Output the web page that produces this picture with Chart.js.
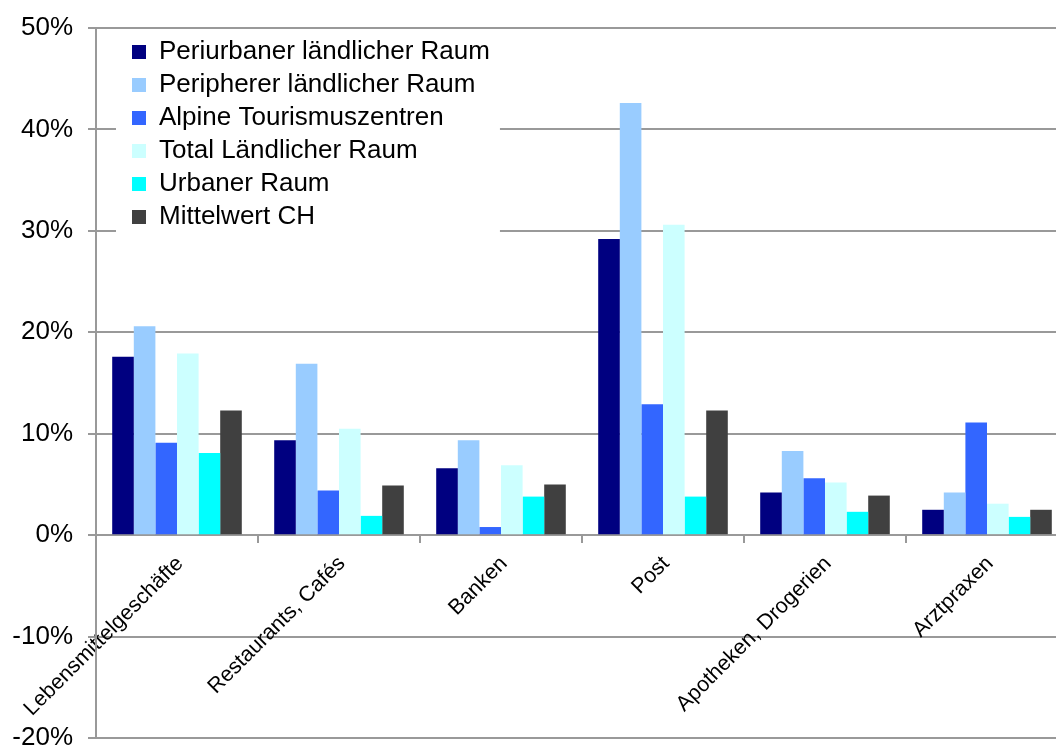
<!DOCTYPE html>
<html lang="de">
<head>
<meta charset="utf-8">
<title>Anteil Betriebe</title>
<script src="https://cdn.jsdelivr.net/npm/chart.js@4/dist/chart.umd.min.js"></script>
<style>
  html, body { margin: 0; padding: 0; background: #fff; overflow: hidden; }
  canvas { display: block; }
</style>
</head>
<body>
<canvas id="chart" width="1068" height="766"></canvas>
<script>
// Kategorien und Werte in Prozent
const categories = ['Lebensmittelgeschäfte', 'Restaurants, Cafés', 'Banken', 'Post', 'Apotheken, Drogerien', 'Arztpraxen']
const periurban = [17.6, 9.35, 6.6, 29.2, 4.2, 2.5]
const peripher = [20.6, 16.9, 9.35, 42.6, 8.3, 4.2]
const alpin = [9.1, 4.4, 0.8, 12.9, 5.6, 11.1]
const totalLaendlich = [17.9, 10.5, 6.9, 30.6, 5.2, 3.1]
const urban = [8.1, 1.9, 3.8, 3.8, 2.3, 1.8]
const mittelwert = [12.3, 4.9, 5.0, 12.3, 3.9, 2.5]

const seriesNames = ['Periurbaner ländlicher Raum', 'Peripherer ländlicher Raum', 'Alpine Tourismuszentren', 'Total Ländlicher Raum', 'Urbaner Raum', 'Mittelwert CH']
const seriesValues = [periurban, peripher, alpin, totalLaendlich, urban, mittelwert]
const seriesColors = ['#000080', '#99CCFF', '#3366FF', '#CCFFFF', '#00FFFF', '#404040']

const yTicks = [-20, -10, 0, 10, 20, 30, 40, 50]

const gridColor = '#999999'

Chart.defaults.font.family = "'Liberation Sans', Arial, sans-serif"
Chart.defaults.color = '#000'

// Legende in die Plotfläche schieben und weiss hinterlegen
const legendInside = {
  id: 'legendInside',
  afterLayout(chart) {
    const legend = chart.legend
    legend.left = 125
    legend.top = 32
    legend.bottom = chart.chartArea.bottom
  },
  beforeDatasetsDraw(chart) {
    const boxes = chart.legend.legendHitBoxes
    if (!boxes || !boxes.length) return
    let l = Infinity, t = Infinity, r = -Infinity, b = -Infinity
    boxes.forEach(h => {
      l = Math.min(l, h.left)
      t = Math.min(t, h.top)
      r = Math.max(r, h.left + h.width)
      b = Math.max(b, h.top + h.height)
    })
    const ctx = chart.ctx
    ctx.save()
    ctx.fillStyle = '#fff'
    ctx.fillRect(l - 16, t - 8, r - l + 26, b - t + 16)
    ctx.restore()
    chart.legend.draw()
  }
}

new Chart(document.getElementById('chart'), {
  type: 'bar',
  data: {
    labels: categories,
    datasets: seriesNames.map((name, i) => ({
      label: name,
      data: seriesValues[i],
      backgroundColor: seriesColors[i],
      borderWidth: 0,
      categoryPercentage: 0.8,
      barPercentage: 1.0
    }))
  },
  options: {
    responsive: false,
    animation: false,
    layout: { padding: { left: 12, right: 0, top: 0, bottom: 0 } },
    plugins: {
      legend: {
        position: 'chartArea',
        align: 'start',
        labels: {
          boxWidth: 14,
          boxHeight: 14,
          padding: 7,
          color: '#000',
          font: { size: 26 }
        }
      },
      tooltip: { enabled: false }
    },
    scales: {
      x: {
        position: { y: 0 },
        offset: true,
        // die schrägen Beschriftungen sollen die Plotfläche nicht verschieben
        afterFit(scale) {
          scale.paddingLeft = 0
          scale.paddingRight = 0
        },
        grid: {
          display: true,
          offset: true,
          drawOnChartArea: false,
          drawTicks: true,
          tickLength: 7,
          color: gridColor,
          lineWidth: 2
        },
        border: { display: true, color: gridColor, width: 2 },
        ticks: {
          autoSkip: false,
          minRotation: 45,
          maxRotation: 45,
          padding: 9,
          labelOffset: 3,
          color: '#000',
          font: { size: 21.5 }
        }
      },
      y: {
        min: yTicks[0],
        max: yTicks[yTicks.length - 1],
        afterBuildTicks(scale) {
          scale.ticks = yTicks.map(v => ({ value: v }))
        },
        // feste Achsenbreite, damit die Plotfläche bei x = 96 beginnt
        afterFit(scale) {
          scale.width = 84
        },
        grid: {
          color: gridColor,
          lineWidth: 2,
          tickLength: 8
        },
        border: { display: true, color: gridColor, width: 2 },
        ticks: {
          padding: 15,
          color: '#000',
          font: { size: 26, lineHeight: 1 },
          callback: v => v + '%'
        }
      }
    }
  },
  plugins: [legendInside]
})
</script>
</body>
</html>
